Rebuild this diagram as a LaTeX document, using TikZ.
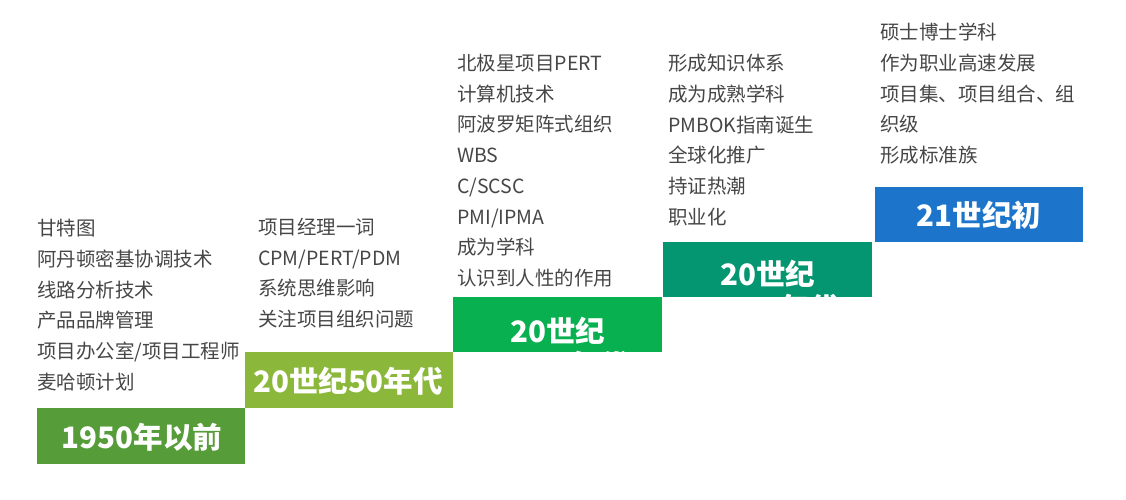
\documentclass[tikz,border=0pt]{standalone}
\usepackage{fontspec}
\newfontfamily\cjk{Noto Sans CJK SC}
\usepackage{xcolor}
\usepackage{tikz}

\definecolor{eraA}{RGB}{86,157,58}
\definecolor{eraB}{RGB}{139,184,58}
\definecolor{eraC}{RGB}{8,176,80}
\definecolor{eraD}{RGB}{4,150,112}
\definecolor{eraE}{RGB}{28,117,203}
\definecolor{itemgray}{RGB}{70,70,70}

\begin{document}
\begin{tikzpicture}[x=1pt,y=-1pt,
    era/.style={font=\cjk\bfseries\fontsize{29.5}{34}\selectfont, text=white, align=center, inner sep=0pt},
    items/.style={font=\cjk\fontsize{19.5}{30.7}\selectfont, text=itemgray, align=left, anchor=north west, inner sep=0pt}]
    \useasboundingbox (0,0) rectangle (1126,499);

    % steps
    \fill[eraA] (37,408) rectangle (245,464);
    \fill[eraB] (245,352) rectangle (453,408);
    \fill[eraC] (453,297) rectangle (662,352);
    \fill[eraD] (663,242) rectangle (872,297);
    \fill[eraE] (875,187) rectangle (1083,242);

    \node[era] (era1) at (142,437) {1950年以前};
    \node[era] (era2) at (348,381) {20世纪50年代};
    \begin{scope}
      \clip (453,297) rectangle (662,352);
      \node[era] (era3) at (558,348) {20世纪\\60-70年代};
    \end{scope}
    \begin{scope}
      \clip (663,242) rectangle (872,297);
      \node[era] (era4) at (768,291) {20世纪\\80-90年代};
    \end{scope}
    \node[era] (era5) at (979,215) {21世纪初};

    % what happened in each era
    \node[items] (list1) at (37,219) {甘特图\\阿丹顿密基协调技术\\线路分析技术\\产品品牌管理\\项目办公室/项目工程师\\麦哈顿计划};
    \node[items] (list2) at (258,218) {项目经理一词\\CPM/PERT/PDM\\系统思维影响\\关注项目组织问题};
    \node[items] (list3) at (457,54) {北极星项目PERT\\计算机技术\\阿波罗矩阵式组织\\WBS\\C/SCSC\\PMI/IPMA\\成为学科\\认识到人性的作用};
    \node[items] (list4) at (668,54) {形成知识体系\\成为成熟学科\\PMBOK指南诞生\\全球化推广\\持证热潮\\职业化};
    \node[items] (list5) at (880,23) {硕士博士学科\\作为职业高速发展\\项目集、项目组合、组\\织级\\形成标准族};
\end{tikzpicture}
\end{document}
